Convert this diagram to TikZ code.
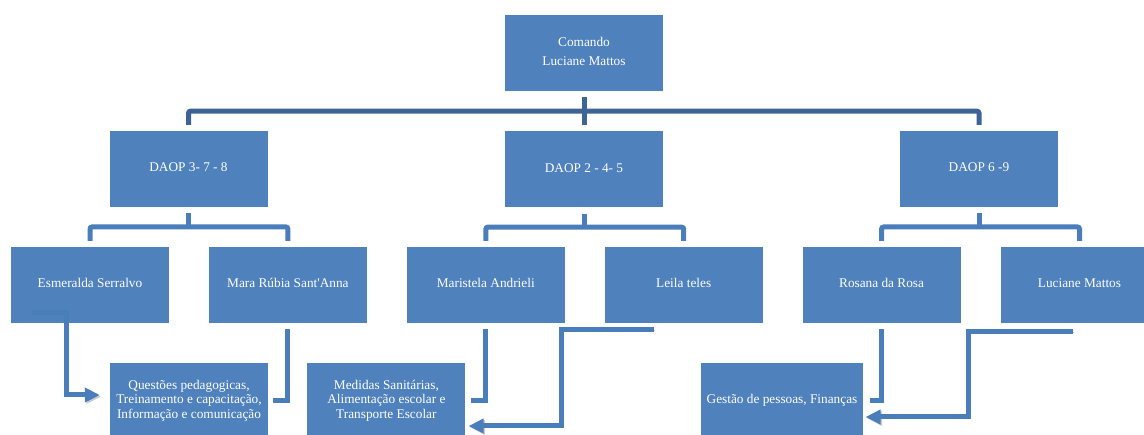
\documentclass[tikz,border=0pt]{standalone}
\usepackage{fontspec}
\setmainfont{Liberation Serif}
\usetikzlibrary{positioning,calc,arrows.meta}
\begin{document}
\begin{tikzpicture}[x=1pt,y=-1pt]
      \definecolor{boxblue}{HTML}{4F81BD}
      \definecolor{darkblue}{HTML}{3C6494}
      \definecolor{lineblue}{HTML}{4A7EBB}
      \definecolor{shadowgray}{HTML}{8C8C8C}

      \newcommand{\boxgap}[0]{39.5pt}
      \newcommand{\boxtext}[1]{\fontsize{13.3}{14.5}\selectfont \begin{tabular}{c}#1\end{tabular}}

      \tikzstyle{block}     = [rectangle, fill=boxblue, text=white, minimum width=158pt, minimum height=76pt, inner sep=0pt]
      \tikzstyle{topline}   = [draw=darkblue, line width=5pt, rounded corners=2pt]
      \tikzstyle{subline}   = [draw=lineblue, line width=5pt, rounded corners=2pt]
      \tikzstyle{connector} = [draw=lineblue, line width=5pt, preaction={draw=shadowgray, opacity=0.45, transform canvas={shift={(1.5pt,-1.5pt)}}}]
      \tikzstyle{flow}      = [connector, -{Triangle[length=15pt,width=14pt]}]

      \clip (0,0) rectangle (1144,435);

      \node [block] (cmd) at (584,53) {\boxtext{Comando\\[5pt] Luciane Mattos}};

      \node [block, below = 40pt of cmd] (daopB) {\boxtext{DAOP 2 - 4- 5}};
      \node [block] (daopA) at (188.5,169) {\boxtext{DAOP 3- 7 - 8}};
      \node [block] (daopC) at (979,169)   {\boxtext{DAOP 6 -9}};

      \node [block] (esm) at (90,285)            {\boxtext{Esmeralda Serralvo}};
      \node [block, right = \boxgap of esm]  (mara)  {\boxtext{Mara Rúbia Sant\textquotesingle Anna}};
      \node [block, right = \boxgap of mara] (mar)   {\boxtext{Maristela Andrieli}};
      \node [block, right = \boxgap of mar]  (leila) {\boxtext{Leila teles}};
      \node [block, right = \boxgap of leila](ros)   {\boxtext{Rosana da Rosa}};
      \node [block, right = \boxgap of ros]  (luc)   {\boxtext{Luciane Mattos}};

      \node [block] (que) at (189,401)         {\boxtext{Questões pedagogicas,\\Treinamento e capacitação,\\Informação e comunicação}};
      \node [block, right = 39pt of que] (med) {\boxtext{Medidas Sanitárias,\\Alimentação escolar e\\Transporte Escolar}};
      \node [block] (ges) at (782,401)         {\boxtext{Gestão de pessoas, Finanças}};

      % first level
      \draw [topline] ([yshift=-6pt]cmd.south) -- ([yshift=6pt]daopB.north);
      \draw [topline] ([yshift=6pt]daopA.north) |- ($(cmd.south)!0.5!(daopB.north)$) -| ([yshift=6pt]daopC.north);

      % second level
      \coordinate (busA) at ($(daopA.south)!0.5!(daopA.south |- esm.north)$);
      \coordinate (busB) at ($(daopB.south)!0.5!(daopB.south |- mar.north)$);
      \coordinate (busC) at ($(daopC.south)!0.5!(daopC.south |- ros.north)$);
      \draw [subline] ([yshift=-6pt]daopA.south) -- (busA);
      \draw [subline] ([yshift=-6pt]daopB.south) -- (busB);
      \draw [subline] ([yshift=-6pt]daopC.south) -- (busC);
      \draw [subline] ([yshift=6pt]esm.north) |- (busA) -| ([yshift=6pt]mara.north);
      \draw [subline] ([yshift=6pt]mar.north) |- (busB) -| ([yshift=6pt]leila.north);
      \draw [subline] ([yshift=6pt]ros.north) |- (busC) -| ([yshift=6pt]luc.north);

      % third level
      \draw [flow]      ([xshift=-58pt,yshift=11pt]esm.south) -- ++(34,0) |- ([xshift=-10pt,yshift=6pt]que.west);
      \draw [connector] ([yshift=-6pt]mara.south) |- ([xshift=5pt]que.east);
      \draw [connector] ([yshift=-6pt]mar.south) |- ([xshift=5pt]med.east);
      \draw [flow]      ([xshift=-30pt,yshift=-6pt]leila.south) -- ++(-92,0) |- ([xshift=3pt,yshift=-25pt]med.east);
      \draw [connector] ([yshift=-6pt]ros.south) |- ([xshift=6pt]ges.east);
      \draw [flow]      ([xshift=-7pt,yshift=-8pt]luc.south) -- ++(-104,0) |- ([xshift=2pt,yshift=-16pt]ges.east);
    \end{tikzpicture}
\end{document}
